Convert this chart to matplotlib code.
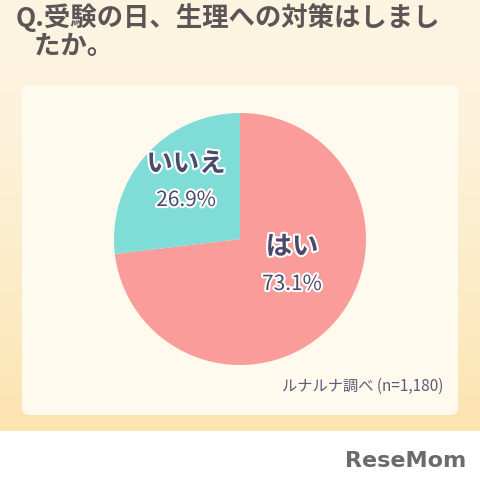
import numpy as np
import matplotlib.pyplot as plt
from matplotlib.patches import FancyBboxPatch, Rectangle
import matplotlib.patheffects as pe

plt.rcParams['font.family'] = ['Noto Sans CJK JP', 'DejaVu Sans']

# data
labels = ["はい", "いいえ"]
values = [73.1, 26.9]
colors = ["#F99C9A", "#7FDCD6"]
title = "Q.受験の日、生理への対策はしまし\n   たか。"
source = "ルナルナ調べ (n=1,180)"

W, H = 480, 481
fig = plt.figure(figsize=(W / 100, H / 100), dpi=100)
bg = fig.add_axes([0, 0, 1, 1])
bg.set_xlim(0, W)
bg.set_ylim(H, 0)
bg.axis("off")

# gradient background
grad = np.linspace(0, 1, 256).reshape(-1, 1)
c1 = np.array([253, 244, 226]) / 255
c2 = np.array([252, 228, 175]) / 255
img = c1 + (c2 - c1) * grad[..., None] ** 1.5
bg.imshow(img, extent=[0, W, 432, 0], aspect="auto", zorder=0)
bg.add_patch(Rectangle((0, 432), W, H - 432, color="white", zorder=1))

# panel
bg.add_patch(FancyBboxPatch((22, 86), 436, 330, boxstyle="round,pad=0,rounding_size=8",
                            fc="#FFF9EE", ec="none", zorder=2))

bg.text(16, 32, title, fontsize=19, color="#5a5656", va="center", ha="left",
        fontweight="bold", linespacing=1.05, zorder=3)
bg.text(443, 386, source, fontsize=11, color="#5b5a78", ha="right", va="center", zorder=3)
bg.text(466, 461, "ReseMom", fontsize=16, color="#6b6b6b", ha="right", va="center",
        fontweight="bold", family="DejaVu Sans", zorder=3)

# pie
cx, cy, r = 240, 240, 126
ax = fig.add_axes([(cx - r) / W, 1 - (cy + r) / H, 2 * r / W, 2 * r / H])
ax.pie(values, colors=colors, startangle=90, counterclock=False,
       wedgeprops=dict(linewidth=0))
ax.set_aspect("auto")
ax.set_xlim(-1, 1)
ax.set_ylim(-1, 1)

stroke = [pe.withStroke(linewidth=3, foreground="white")]
txt = "#4b4a6a"
for x, y, s, fs, fw in [(292, 248, labels[0], 19, "bold"),
                        (292, 285, f"{values[0]}%", 15, "normal"),
                        (186, 165, labels[1], 19, "bold"),
                        (186, 201, f"{values[1]}%", 15, "normal")]:
    ax.text(x, y, s, fontsize=fs, fontweight=fw, color=txt, ha="center", va="center",
            path_effects=stroke, transform=bg.transData, zorder=5)

fig.savefig("out.png", dpi=100)
